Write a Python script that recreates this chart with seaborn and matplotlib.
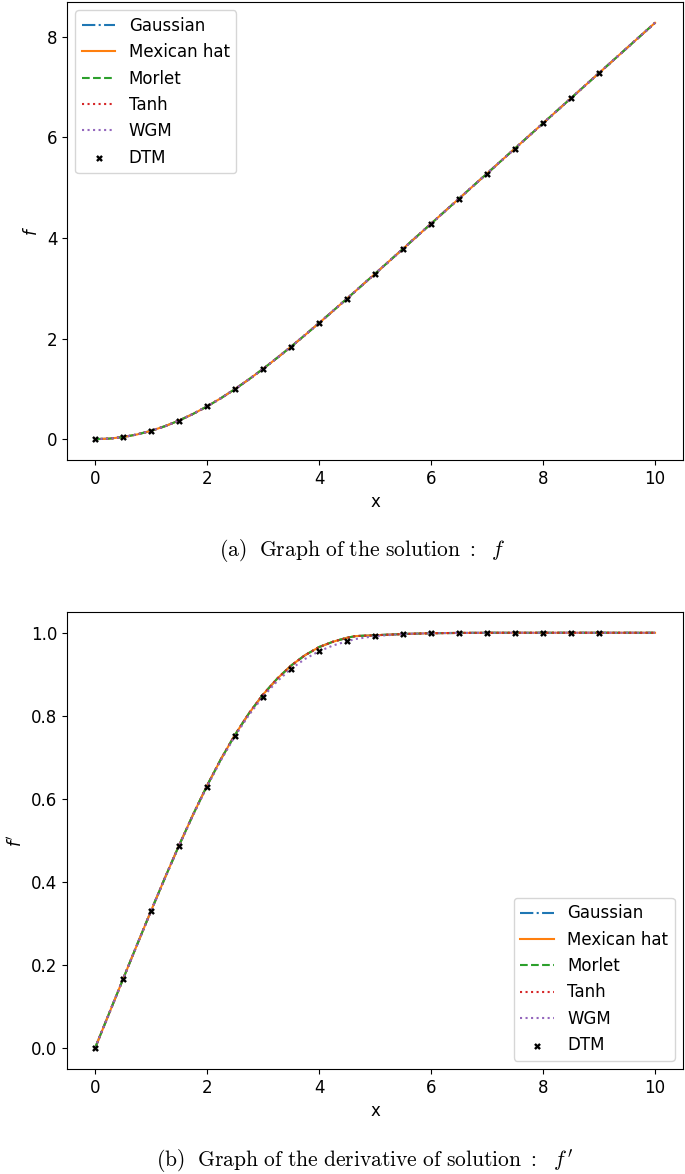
import numpy as np
import pandas as pd
import matplotlib
matplotlib.use("Agg")
import matplotlib.pyplot as plt
import seaborn as sns

# ---------------- data ----------------
x_line = [0, 0.25, 0.5, 0.75, 1.0, 1.25, 1.5, 1.75, 2.0, 2.25, 2.5, 2.75, 3.0, 3.25,
          3.5, 3.75, 4.0, 4.25, 4.5, 4.65, 5.0, 5.5, 6.0, 6.5, 7.0, 7.5, 8.0, 8.5, 9.0, 9.5, 10.0]

# solution f (all methods practically coincide)
f_line = [0.0, 0.0104, 0.0415, 0.0933, 0.1656, 0.2580, 0.3701, 0.5011, 0.6500, 0.8156,
          0.9963, 1.1904, 1.3968, 1.6138, 1.8380, 2.0700, 2.3080, 2.5500, 2.7950, 2.9430,
          3.2880, 3.7850, 4.2840, 4.7830, 5.2820, 5.7815, 6.2810, 6.7805, 7.2800, 7.7795, 8.2790]

# derivative f' for the wavelet methods
fp_wave = [0.0, 0.0832, 0.1662, 0.2488, 0.3305, 0.4105, 0.4880, 0.5620, 0.6318, 0.6962,
           0.7545, 0.8062, 0.8512, 0.8890, 0.9210, 0.9460, 0.9655, 0.9785, 0.9880, 0.9920,
           0.9940, 0.9970, 0.9990, 0.9996, 0.9999, 1.0, 1.0, 1.0, 1.0, 1.0, 1.0]

# derivative f' for WGM (slightly lower near the knee)
fp_wgm = [0.0, 0.0830, 0.1659, 0.2483, 0.3298, 0.4096, 0.4868, 0.5605, 0.6298, 0.6936,
          0.7513, 0.8022, 0.8461, 0.8829, 0.9131, 0.9370, 0.9555, 0.9694, 0.9795, 0.9850,
          0.9920, 0.9970, 0.9990, 0.9997, 0.9999, 1.0, 1.0, 1.0, 1.0, 1.0, 1.0]

x_dtm = [0, 0.5, 1.0, 1.5, 2.0, 2.5, 3.0, 3.5, 4.0, 4.5, 5.0, 5.5, 6.0, 6.5, 7.0, 7.5, 8.0, 8.5, 9.0]
f_dtm = [0.0, 0.0415, 0.1656, 0.3701, 0.6500, 0.9963, 1.3968, 1.8377, 2.3057, 2.7901,
         3.2833, 3.7806, 4.2796, 4.7793, 5.2792, 5.7792, 6.2792, 6.7792, 7.2792]
fp_dtm = [0.0, 0.1659, 0.3298, 0.4868, 0.6298, 0.7513, 0.8461, 0.9131, 0.9555, 0.9795,
          0.9916, 0.9969, 0.9990, 0.9997, 0.9999, 1.0, 1.0, 1.0, 1.0]

methods = ["Gaussian", "Mexican hat", "Morlet", "Tanh", "WGM"]
styles = ["-.", "-", "--", ":", ":"]
colors = ["#1f77b4", "#ff7f0e", "#2ca02c", "#d62728", "#9467bd"]

captions = [r"$\mathrm{(a)\ \ Graph\ of\ the\ solution\ :}\ \ f$",
            r"$\mathrm{(b)\ \ Graph\ of\ the\ derivative\ of\ solution\ :}\ \ f\,'$"]

# ---------------- figure ----------------
plt.rcParams["font.size"] = 12
fig = plt.figure(figsize=(6.85, 11.74), dpi=100)
ax1 = fig.add_axes([0.0978, 0.6082, 0.8993, 0.3901])
ax2 = fig.add_axes([0.0978, 0.0894, 0.8993, 0.3893])

def draw(ax, ylines, ydtm, ylabel, loc):
    for m, ls, c in zip(methods, styles, colors):
        sns.lineplot(x=x_line, y=ylines[m], ax=ax, label=m, color=c,
                     linestyle=ls, linewidth=1.5, estimator=None, sort=False)
    sns.scatterplot(x=x_dtm, y=ydtm, ax=ax, label="DTM", color="black",
                    marker="X", s=24, linewidth=0, zorder=5)
    ax.set_xlabel("x", fontsize=12)
    ax.set_ylabel(ylabel, fontsize=12)
    ax.set_xticks([0, 2, 4, 6, 8, 10])
    ax.tick_params(labelsize=12)
    ax.legend(loc=loc, fontsize=12)

draw(ax1, {m: f_line for m in methods}, f_dtm, "$f$", "upper left")
ylines2 = {m: fp_wave for m in methods}
ylines2["WGM"] = fp_wgm
draw(ax2, ylines2, fp_dtm, "$f'$", "lower right")
ax2.set_yticks([0.0, 0.2, 0.4, 0.6, 0.8, 1.0])

fig.text(362 / 685, 1 - 551 / 1174, captions[0], ha="center", va="center",
         fontsize=15.5, math_fontfamily="cm")
fig.text(365 / 685, 1 - 1161 / 1174, captions[1], ha="center", va="center",
         fontsize=15.5, math_fontfamily="cm")

fig.savefig("out.png", dpi=100)
